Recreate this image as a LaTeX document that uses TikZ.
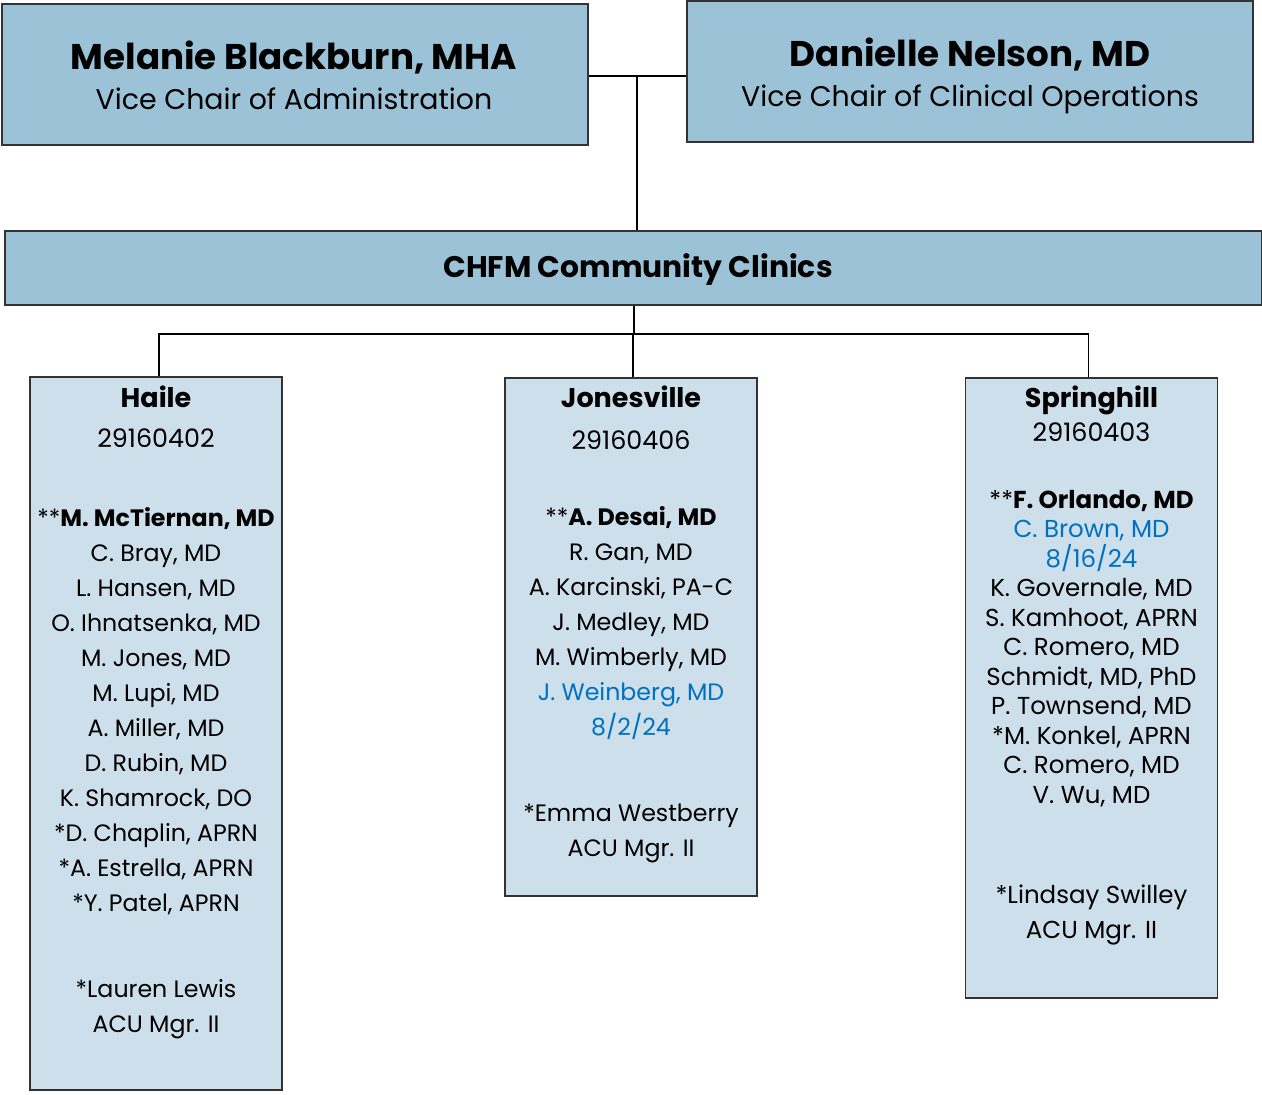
\documentclass[tikz,border=0pt]{standalone}
\usepackage{fontspec}
\setmainfont{Poppins}
\usetikzlibrary{positioning}
\definecolor{lead_blue}{RGB}{155,194,214}
\definecolor{clinic_blue}{RGB}{204,223,234}
\definecolor{new_blue}{RGB}{0,112,192}
\tikzset{lead_box/.style={draw=black!80, line width=1.5pt, fill=lead_blue, inner sep=0pt}}
\tikzset{lead_text/.style={align=center, inner sep=0pt, font=\fontsize{28.4}{40}\selectfont}}
\tikzset{clinic_box/.style={draw=black!80, line width=1.5pt, fill=clinic_blue, minimum width=252pt, inner sep=0pt}}
\tikzset{roster/.style={align=center, anchor=north, inner sep=0pt, font=\fontsize{23.7}{35}\selectfont}}
\tikzset{org_line/.style={line width=1.2pt, black}}
\newcommand{\leadname}[1]{{\fontsize{35.7}{40}\selectfont\bfseries #1}}
\newcommand{\clinicname}[1]{{\fontsize{27}{35}\selectfont\bfseries #1}}
\newcommand{\clinicno}[1]{{\fontsize{25.4}{35}\selectfont #1}}

\begin{document}
\begin{tikzpicture}[x=1pt, y=-1pt]
    \useasboundingbox (0,0) rectangle (1262,1095);
    %\draw[help lines] (0,0) grid[step=50pt] (1262,1095);
    \node[lead_box, minimum width=586pt, minimum height=141pt] (melanie) at (295,74.5) {};
    \node[lead_box, minimum width=566pt, minimum height=141pt] (danielle) at (970,71.5) {};
    \node[lead_box, minimum width=1257pt, minimum height=74pt] (chfm) at (633.5,268) {};
    \node[lead_text] (melanie_text) at (294,75.5)
        {\leadname{Melanie Blackburn, MHA}\\ Vice Chair of Administration};
    \node[lead_text] (danielle_text) at (970,76)
        {\leadname{Danielle Nelson, MD}\\ Vice Chair of Clinical Operations};
    \node[lead_text, font=\fontsize{29.8}{37}\selectfont\bfseries] (chfm_text) at (638,270)
        {CHFM Community Clinics};

    \node[clinic_box, minimum height=713pt] (haile) at (156,733.5) {};
    \node[clinic_box, minimum height=518pt] (jonesville) at (631,637) {};
    \node[clinic_box, minimum height=620pt] (springhill) at (1091.5,688) {};

    \coordinate (vc_join) at (637,76);
    \coordinate (bus) at (634,334);

    \draw[org_line] (melanie.east |- vc_join) -- (danielle.west |- vc_join);
    \draw[org_line] (vc_join) -- (vc_join |- chfm.north);
    \draw[org_line] (chfm.south -| bus) -- (bus);
    \draw[org_line] ([xshift=3pt]haile.north) |- (bus) -| ([xshift=-3pt]springhill.north);
    \draw[org_line] ([xshift=2pt]jonesville.north) -- ([xshift=2pt]jonesville.north |- bus);

    \node[roster] (haile_staff) at (156,386) {%
        \clinicname{Haile}\\[5pt]
        \clinicno{29160402}\\[44pt]
        **\textbf{M. McTiernan, MD}\\
        C. Bray, MD\\
        L. Hansen, MD\\
        O. Ihnatsenka, MD\\
        M. Jones, MD\\
        M. Lupi, MD\\
        A. Miller, MD\\
        D. Rubin, MD\\
        K. Shamrock, DO\\
        *D. Chaplin, APRN\\
        *A. Estrella, APRN\\
        *Y. Patel, APRN\\[51pt]
        *Lauren Lewis\\
        ACU Mgr. II};
    \node[roster] (jonesville_staff) at (631,386) {%
        \clinicname{Jonesville}\\[6.5pt]
        \clinicno{29160406}\\[41pt]
        **\textbf{A. Desai, MD}\\
        R. Gan, MD\\
        A. Karcinski, PA-C\\
        J. Medley, MD\\
        M. Wimberly, MD\\
        \textcolor{new_blue}{J. Weinberg, MD}\\
        \textcolor{new_blue}{8/2/24}\\[51pt]
        *Emma Westberry\\
        ACU Mgr. II};
    \node[roster, font=\fontsize{24.5}{29.5}\selectfont] (springhill_staff) at (1091.5,386) {%
        \clinicname{Springhill}\\[4pt]
        \clinicno{29160403}\\[37.5pt]
        **\textbf{F. Orlando, MD}\\
        \textcolor{new_blue}{C. Brown, MD}\\
        \textcolor{new_blue}{8/16/24}\\
        K. Governale, MD\\
        S. Kamhoot, APRN\\
        C. Romero, MD\\
        Schmidt, MD, PhD\\
        P. Townsend, MD\\
        *M. Konkel, APRN\\
        C. Romero, MD\\
        V. Wu, MD\\[70.5pt]
        *Lindsay Swilley\\[5.5pt]
        ACU Mgr. II};
\end{tikzpicture}
\end{document}
